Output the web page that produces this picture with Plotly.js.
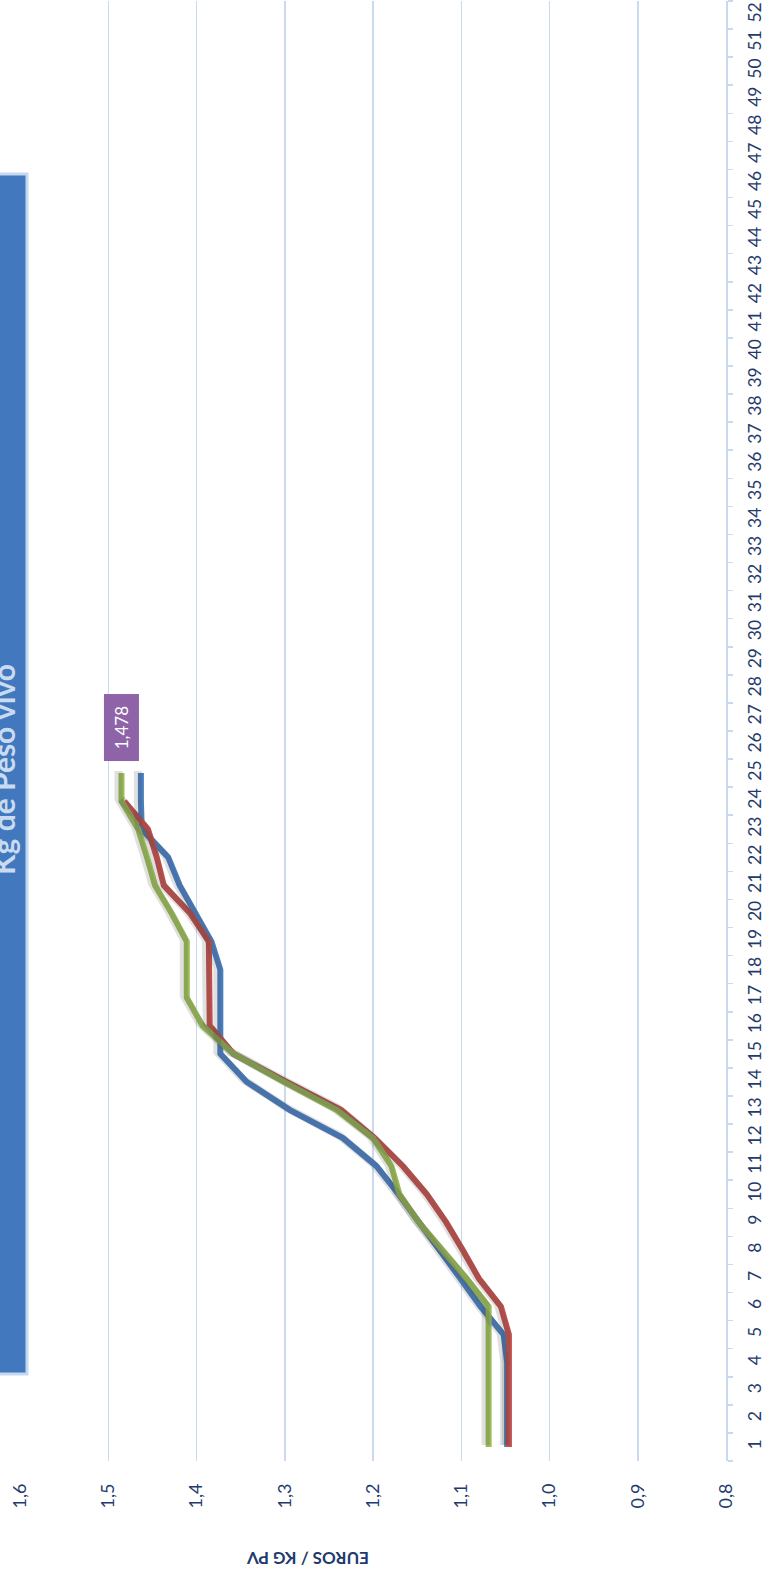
<!DOCTYPE html>
<html>
<head>
<meta charset="utf-8">
<script src="https://cdn.plot.ly/plotly-3.0.1.min.js"></script>
<style>
  html, body { margin: 0; padding: 0; background: #ffffff; }
  #chart { width: 776px; height: 1582px; }
</style>
</head>
<body>
<div id="chart"></div>
<script>
// ---- data ----
var weeks = [];
for (var i = 1; i <= 52; i++) weeks.push(String(i));

var seriesBlue  = [1.048, 1.048, 1.048, 1.048, 1.052, 1.078, 1.101, 1.124, 1.147, 1.171,
                   1.196, 1.234, 1.294, 1.343, 1.373, 1.373, 1.373, 1.373, 1.383, 1.401,
                   1.419, 1.432, 1.462, 1.463, 1.463];
var seriesRed   = [1.046, 1.046, 1.046, 1.046, 1.046, 1.055, 1.080, 1.098, 1.117, 1.139,
                   1.166, 1.198, 1.236, 1.298, 1.358, 1.385, 1.385, 1.385, 1.386, 1.407,
                   1.437, 1.445, 1.455, 1.482];
var seriesGreen = [1.069, 1.069, 1.069, 1.069, 1.069, 1.069, 1.094, 1.121, 1.148, 1.170,
                   1.179, 1.200, 1.241, 1.301, 1.358, 1.393, 1.411, 1.411, 1.411, 1.428,
                   1.447, 1.456, 1.466, 1.485, 1.485];
var valueTicks = [0.8, 0.9, 1.0, 1.1, 1.2, 1.3, 1.4, 1.5, 1.6];
var valueTickLabels = ["0,8", "0,9", "1,0", "1,1", "1,2", "1,3", "1,4", "1,5", "1,6"];
var dataLabelText = "1,478";
var chartTitle = "Kg de Peso vivo";
var valueAxisTitle = "EUROS / KG PV";

// ---- layout constants ----
var W = 776, H = 1582;
var M = {l: 20, r: 50, t: 1, b: 121};
var plotW = W - M.l - M.r, plotH = H - M.t - M.b;
function px2paperX(px) { return (px - M.l) / plotW; }
function px2paperY(py) { return (H - M.b - py) / plotH; }

var xRange = [1.6, 0.8];
var yRange = [-0.5, 51.5];
var shadowDX = 3, shadowDY = 2; // px
var dxVal = shadowDX * (xRange[0] - xRange[1]) / plotW;
var dyCat = shadowDY * (yRange[1] - yRange[0]) / plotH;

var colors = {blue: '#4A7EBF', red: '#C0504D', green: '#9BBB59'};
var allSeries = [
  {vals: seriesBlue, color: colors.blue, name: 'Serie 1'},
  {vals: seriesRed, color: colors.red, name: 'Serie 2'},
  {vals: seriesGreen, color: colors.green, name: 'Serie 3'}
];

var traces = [];
allSeries.forEach(function (s) {
  traces.push({
    type: 'scatter', mode: 'lines',
    x: s.vals, y: weeks.slice(0, s.vals.length),
    xaxis: 'x2', yaxis: 'y2',
    line: {color: 'rgba(60,60,60,0.16)', width: 8},
    hoverinfo: 'skip', showlegend: false
  });
});
allSeries.forEach(function (s) {
  traces.push({
    type: 'scatter', mode: 'lines', name: s.name,
    x: s.vals, y: weeks.slice(0, s.vals.length),
    line: {color: s.color, width: 6},
    showlegend: false
  });
});

var axisColor = '#C9DAF0';
var textColor = '#1F3B6E';
var baseFont = 'Lato, "Open Sans", sans-serif';

var layout = {
  width: W, height: H,
  margin: M,
  paper_bgcolor: '#ffffff', plot_bgcolor: '#ffffff',
  showlegend: false,
  font: {family: baseFont, color: textColor, size: 15},
  xaxis: {
    range: xRange, autorange: false,
    tickvals: valueTicks, ticktext: valueTickLabels,
    tickangle: -90, ticks: '', ticklabelstandoff: 18,
    showgrid: true, gridcolor: axisColor, gridwidth: 1.5,
    zeroline: false, showline: false,
    tickfont: {family: baseFont, size: 18, color: textColor}
  },
  yaxis: {
    type: 'category', categoryorder: 'array', categoryarray: weeks,
    range: yRange, autorange: false,
    side: 'right', showgrid: false, zeroline: false,
    showline: true, linecolor: axisColor, linewidth: 2,
    ticks: 'outside', ticklen: 5, tickcolor: axisColor, tickwidth: 1.5,
    tickson: 'boundaries',
    tickangle: -90, ticklabelstandoff: 12,
    tickfont: {family: baseFont, size: 17.5, color: textColor}
  },
  xaxis2: {
    overlaying: 'x', range: [xRange[0] - dxVal, xRange[1] - dxVal],
    autorange: false, visible: false
  },
  yaxis2: {
    overlaying: 'y', type: 'category', categoryorder: 'array', categoryarray: weeks,
    range: [yRange[0] - dyCat, yRange[1] - dyCat], autorange: false, visible: false
  },
  shapes: [
    {
      type: 'rect', xref: 'paper', yref: 'paper', layer: 'above',
      x0: px2paperX(-5), x1: px2paperX(27),
      y0: px2paperY(1374), y1: px2paperY(174),
      fillcolor: '#4178BE', line: {color: '#C5D8EF', width: 3}
    }
  ],
  annotations: [
    {
      xref: 'paper', yref: 'paper',
      x: px2paperX(3), y: px2paperY(770),
      xanchor: 'center', yanchor: 'middle',
      text: '<b>' + chartTitle + '</b>', textangle: -90, showarrow: false,
      font: {family: baseFont, size: 30, color: '#C9DBF1'}
    },
    {
      xref: 'paper', yref: 'paper',
      x: px2paperX(308), y: px2paperY(1559),
      xanchor: 'center', yanchor: 'middle',
      text: '<b>' + valueAxisTitle + '</b>', textangle: 180, showarrow: false,
      font: {family: baseFont, size: 17, color: textColor}
    },
    {
      xref: 'x', yref: 'y',
      x: seriesGreen[seriesGreen.length - 1], y: weeks[seriesGreen.length - 1],
      xanchor: 'center', yanchor: 'middle', yshift: 18,
      text: dataLabelText, textangle: -90, showarrow: false,
      bgcolor: '#8E63A8', borderpad: 0, width: 66, height: 34,
      font: {family: baseFont, size: 17, color: '#ffffff'}
    }
  ]
};

Plotly.newPlot('chart', traces, layout, {staticPlot: true, displayModeBar: false});
</script>
</body>
</html>
